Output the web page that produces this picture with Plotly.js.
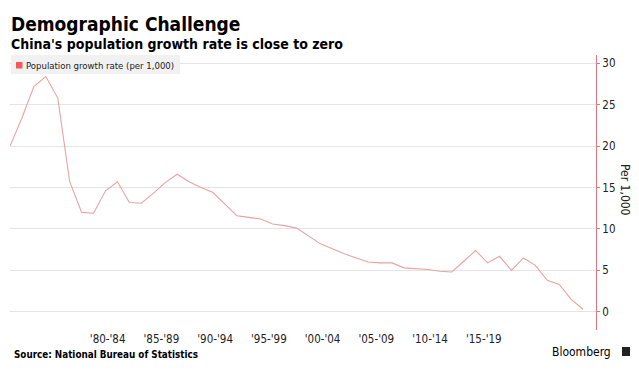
<!DOCTYPE html>
<html>
<head>
<meta charset="utf-8">
<script src="https://cdn.plot.ly/plotly-3.0.1.min.js"></script>
<style>
  html, body { margin: 0; padding: 0; background: #fff; }
  #chart { width: 639px; height: 383px; }
</style>
</head>
<body>
<div id="chart"></div>
<script>
// ---- data ----
const periodLabels = ['1952','1953','1962','1965','1970','1975','1978',
  '1980','1981','1982','1983','1984','1985','1986','1987','1988','1989',
  '1990','1991','1992','1993','1994','1995','1996','1997','1998','1999',
  '2000','2001','2002','2003','2004','2005','2006','2007','2008','2009',
  '2010','2011','2012','2013','2014','2015','2016','2017','2018','2019',
  '2020','2021'];
const growthRate = [20.0, 23.4, 27.2, 28.4, 25.8, 15.7, 12.0,
  11.9, 14.6, 15.7, 13.2, 13.1, 14.3, 15.6, 16.6, 15.7, 15.0,
  14.4, 13.0, 11.6, 11.4, 11.2, 10.6, 10.4, 10.1, 9.1, 8.2,
  7.6, 7.0, 6.5, 6.0, 5.9, 5.9, 5.3, 5.2, 5.1, 4.9,
  4.8, 6.1, 7.4, 5.9, 6.7, 5.0, 6.5, 5.6, 3.8, 3.3,
  1.5, 0.3];
const tickLabels = ["'80-'84","'85-'89","'90-'94","'95-'99","'00-'04","'05-'09","'10-'14","'15-'19"];
const yTicks = [0, 5, 10, 15, 20, 25, 30];

// ---- layout helpers ----
const W = 639, H = 383;
const M = {l: 10, r: 43, t: 55, b: 53};
const PW = W - M.l - M.r, PH = H - M.t - M.b;
const px = x => (x - M.l) / PW;          // pixel -> paper x
const py = y => (H - M.b - y) / PH;      // pixel -> paper y

const xIdx = growthRate.map((_, i) => i);
const tickVals = tickLabels.map((_, k) => 8.18 + 4.5 * k);

const FONT = 'Tahoma, "DejaVu Sans Condensed", "DejaVu Sans", sans-serif';
const BOLD = '"DejaVu Sans Condensed", "DejaVu Sans", sans-serif';
const lineColor = '#e8a3a3';
const axisColor = '#e2737f';

const trace = {
  x: xIdx,
  y: growthRate,
  text: periodLabels,
  type: 'scatter',
  mode: 'lines',
  line: {color: lineColor, width: 1.1},
  hovertemplate: '%{text}: %{y}<extra></extra>',
  showlegend: false
};

const layout = {
  width: W, height: H,
  margin: M,
  paper_bgcolor: '#fff',
  plot_bgcolor: '#fff',
  font: {family: FONT, color: '#222', size: 11},
  showlegend: false,
  title: {
    text: 'Demographic Challenge',
    x: 11 / W, xanchor: 'left',
    y: 1 - 24 / H, yanchor: 'middle',
    xref: 'container', yref: 'container',
    font: {family: BOLD, size: 19, weight: 'bold', color: '#000'}
  },
  xaxis: {
    range: [0, PW / 11.94],
    showgrid: false, zeroline: false, showline: false,
    ticks: '',
    tickmode: 'array', tickvals: tickVals, ticktext: tickLabels,
    tickfont: {family: FONT, size: 11.5, color: '#222'},
    fixedrange: true
  },
  yaxis: {
    side: 'right',
    range: [-2.2, 31.0],
    tickmode: 'array', tickvals: yTicks,
    showgrid: true, gridcolor: '#e4e4e4', gridwidth: 1,
    zeroline: false,
    showline: true, linecolor: axisColor, linewidth: 1,
    ticks: 'outside', ticklen: 3, tickcolor: axisColor,
    tickfont: {family: FONT, size: 11.5, color: '#222'},
    fixedrange: true
  },
  shapes: [
    // legend box
    {type: 'rect', xref: 'paper', yref: 'paper',
     x0: px(11), x1: px(180), y0: py(74), y1: py(55),
     fillcolor: '#f1f1f1', line: {width: 0}, layer: 'above'},
    // legend swatch
    {type: 'rect', xref: 'paper', yref: 'paper',
     x0: px(16), x1: px(22.5), y0: py(68.5), y1: py(62),
     fillcolor: '#f05a5f', line: {width: 0}, layer: 'above'},
    // Bloomberg mark
    {type: 'rect', xref: 'paper', yref: 'paper',
     x0: px(622), x1: px(630), y0: py(356), y1: py(347),
     fillcolor: '#222', line: {width: 0}}
  ],
  annotations: [
    {text: "China's population growth rate is close to zero",
     xref: 'paper', yref: 'paper', x: px(9), y: py(44),
     xanchor: 'left', yanchor: 'middle', showarrow: false,
     font: {family: BOLD, size: 14, weight: 'bold', color: '#000'}},
    {text: 'Population growth rate (per 1,000)',
     xref: 'paper', yref: 'paper', x: px(23.5), y: py(65),
     xanchor: 'left', yanchor: 'middle', showarrow: false,
     font: {family: FONT, size: 9.5, color: '#222'}},
    {text: 'Per 1,000',
     xref: 'paper', yref: 'paper', x: px(625), y: py(190),
     xanchor: 'center', yanchor: 'middle', showarrow: false, textangle: 90,
     font: {family: FONT, size: 12, color: '#222'}},
    {text: 'Source: National Bureau of Statistics',
     xref: 'paper', yref: 'paper', x: px(12), y: py(354),
     xanchor: 'left', yanchor: 'middle', showarrow: false,
     font: {family: BOLD, size: 9.8, weight: 'bold', color: '#000'}},
    {text: 'Bloomberg',
     xref: 'paper', yref: 'paper', x: px(613), y: py(352),
     xanchor: 'right', yanchor: 'middle', showarrow: false,
     font: {family: FONT, size: 12, color: '#000'}}
  ]
};

Plotly.newPlot('chart', [trace], layout, {displayModeBar: false, staticPlot: true});
</script>
</body>
</html>
